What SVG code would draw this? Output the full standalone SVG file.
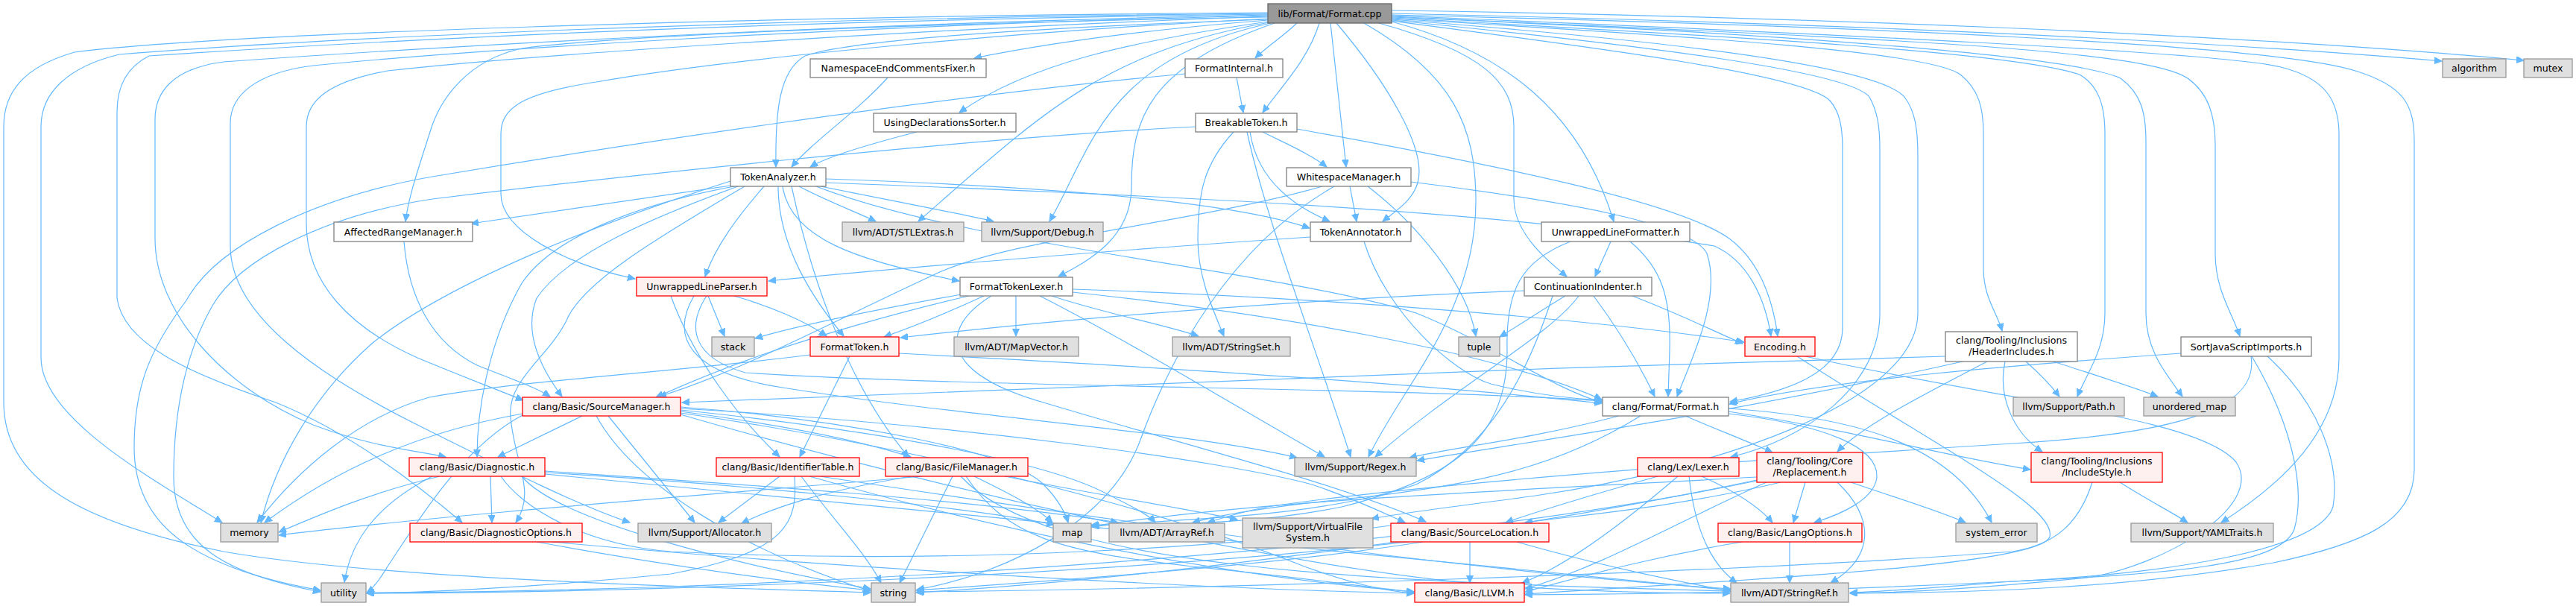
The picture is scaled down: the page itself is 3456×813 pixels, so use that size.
<svg xmlns="http://www.w3.org/2000/svg" width="3456" height="813" viewBox="0 0 3456 813">
<defs>
<marker id="a" markerWidth="11" markerHeight="10" refX="10" refY="4.5" orient="auto" markerUnits="userSpaceOnUse"><path d="M0,0 L10,4.5 L0,9 z" fill="#63b8ff" stroke="#63b8ff" stroke-width="1"/></marker>
<style>
.e path{fill:none;stroke:#63b8ff;stroke-width:1.2;marker-end:url(#a)}
rect{stroke-width:1.3}
.w{fill:#ffffff;stroke:#808080}
.g{fill:#e0e0e0;stroke:#999999}
.r{fill:#fff0f0;stroke:#ff0000}
.k{fill:#999999;stroke:#666666}
text{font-family:"DejaVu Sans","Noto Sans",sans-serif;font-size:12.6px;text-anchor:middle;fill:#000000}
</style>
</defs>
<rect x="0" y="0" width="3456" height="813" fill="#ffffff"/>
<g id="edges" class="e">
<path d="M1867,18 C2400,30 2900,50 3276,82"/>
<path d="M1867,14 C2400,22 3000,45 3386,81"/>
<path d="M1867,20 C2500,35 3050,60 3160,95 C3225,115 3239,140 3239,190 L3239,630 C3239,700 3170,730 3050,755 C2850,790 2650,795 2482,796"/>
<path d="M1867,21 C2450,45 2980,70 3060,90 C3120,105 3138,135 3138,180 L3138,480 C3138,580 3060,650 2980,701"/>
<path d="M1867,22 C2450,50 2870,62 2935,105 C2963,125 2972,155 2972,195 L2972,340 C2972,390 2995,420 3005,451"/>
<path d="M1867,23 C2400,45 2780,75 2845,105 C2872,125 2879,150 2879,190 L2879,420 C2879,470 2905,500 2928,532"/>
<path d="M1867,24 C2350,50 2700,70 2790,100 C2815,115 2824,140 2824,180 L2824,420 C2824,470 2800,500 2787,532"/>
<path d="M1867,25 C2300,50 2590,70 2630,100 C2655,120 2661,145 2661,180 L2661,360 C2661,400 2680,420 2686,444"/>
<path d="M1867,26 C2250,55 2520,90 2555,130 C2570,150 2573,175 2573,210 L2573,420 C2573,540 2300,630 2060,665 C1950,680 1880,688 1840,696"/>
<path d="M1867,27 C2200,60 2480,95 2508,130 C2519,150 2522,170 2522,200 L2522,420 C2522,520 2420,590 2322,613"/>
<path d="M1867,28 C2150,65 2420,100 2455,135 C2468,150 2472,170 2472,200 L2472,440 C2472,500 2400,525 2321,539"/>
<path d="M1867,29 C2020,70 2120,150 2165,297"/>
<path d="M1850,31 C1990,70 2031,110 2031,170 L2031,267 C2031,310 2070,345 2102,371"/>
<path d="M1830,31 C1950,100 1980,170 1980,270 C1980,420 1880,520 1836,613"/>
<path d="M1793,31 C1860,110 1915,200 1902,245 C1895,270 1870,285 1855,297"/>
<path d="M1785,31 L1806,224"/>
<path d="M1770,31 C1755,80 1720,115 1694,151"/>
<path d="M1740,31 C1720,50 1700,62 1684,78"/>
<path d="M1710,31 C1540,90 1518,160 1518,250 C1518,320 1460,350 1420,371"/>
<path d="M1705,31 C1480,80 1465,200 1408,297"/>
<path d="M1703,30 C1480,70 1400,150 1232,297"/>
<path d="M1701,29 C1520,55 1380,85 1287,151"/>
<path d="M1701,27 C1560,38 1420,55 1307,78"/>
<path d="M1701,26 C1450,35 1150,50 1080,75 C1045,95 1040,150 1041,224"/>
<path d="M1701,25 C1400,40 1000,75 800,110 C700,125 672,145 672,180 L672,260 C672,310 760,355 852,374"/>
<path d="M1701,23 C1300,30 850,45 700,65 C630,80 590,130 576,180 C560,230 548,265 544,297"/>
<path d="M1701,22 C1200,40 700,75 520,95 C440,110 411,135 411,170 L411,300 C411,380 470,440 560,480 C620,505 660,520 702,537"/>
<path d="M1701,21 C1100,35 600,70 420,88 C340,98 309,130 309,165 L309,330 C309,420 420,500 560,570 C680,630 780,680 845,701"/>
<path d="M1701,20 C1100,32 550,65 300,83 C230,92 208,125 208,160 L208,320 C208,420 300,520 420,570 C500,600 560,605 598,613"/>
<path d="M1701,19 C1000,28 500,55 200,75 C170,90 157,115 157,150 L157,400 C165,460 250,500 370,540 C470,580 560,650 620,701"/>
<path d="M1701,18 C1000,25 450,50 160,73 C90,90 55,125 55,170 L55,480 C55,560 200,640 298,701"/>
<path d="M1701,17 C1000,22 300,45 100,70 C30,90 5,125 5,170 L5,540 C5,640 100,700 300,740 C500,775 900,787 1168,795"/>
<path d="M1191,104 C1150,150 1090,190 1062,224"/>
<path d="M1230,177 C1160,195 1110,210 1087,224"/>
<path d="M1659,104 L1668,151"/>
<path d="M1590,99 C1250,130 800,200 580,237 C420,265 290,330 250,403 C200,470 180,520 180,600 C180,700 250,760 430,792"/>
<path d="M1604,170 C1300,185 800,240 580,267 C430,290 320,350 285,410 C245,480 233,560 233,640 C233,730 300,770 430,794"/>
<path d="M1740,173 C2000,220 2250,270 2320,320 C2360,350 2378,400 2385,451"/>
<path d="M1694,177 C1730,195 1760,208 1780,224"/>
<path d="M1677,177 C1685,230 1720,270 1784,297"/>
<path d="M1655,177 C1615,220 1607,260 1607,320 C1607,370 1625,410 1642,451"/>
<path d="M1673,177 C1700,300 1760,450 1812,613"/>
<path d="M980,249 L632,300"/>
<path d="M985,250 C850,275 740,320 700,380 C660,450 640,540 640,613"/>
<path d="M990,250 C880,290 760,340 720,400 C700,450 730,500 754,532"/>
<path d="M999,250 C880,320 780,380 760,430 C735,480 680,510 685,560 C690,620 720,660 692,701"/>
<path d="M980,243 C800,300 600,380 500,460 C420,530 370,620 350,701"/>
<path d="M1025,250 C990,290 960,330 946,371"/>
<path d="M1044,250 C1044,330 1090,400 1132,451"/>
<path d="M1050,250 C1060,320 1150,350 1287,377"/>
<path d="M1062,250 C1090,380 1140,520 1219,613"/>
<path d="M1072,250 C1110,270 1150,285 1175,297"/>
<path d="M1101,250 C1200,270 1280,285 1333,297"/>
<path d="M1108,240 C1400,250 1650,270 1757,306"/>
<path d="M1108,245 C1500,260 2000,280 2300,330 C2345,350 2368,400 2376,451"/>
<path d="M1095,250 C1300,330 1700,360 1900,420 C2000,460 2080,520 2149,540"/>
<path d="M1811,250 L1820,297"/>
<path d="M1774,250 C1600,300 1350,320 1250,370 C1120,430 990,500 884,532"/>
<path d="M1893,244 C2100,270 2270,300 2290,340 C2310,400 2270,480 2250,532"/>
<path d="M1835,250 C1900,300 1968,380 1980,451"/>
<path d="M1790,250 C1650,330 1570,480 1530,590 C1490,700 1350,770 1230,791"/>
<path d="M542,324 C548,400 580,460 640,490 C690,510 720,520 738,532"/>
<path d="M1758,318 C1500,335 1200,360 1031,377"/>
<path d="M1830,324 C1860,420 1950,500 2000,515 C2060,530 2110,535 2149,537"/>
<path d="M2161,324 L2140,371"/>
<path d="M2187,324 C2230,360 2242,400 2240,470 L2238,532"/>
<path d="M2107,324 C2040,350 2020,390 2022,470 C2022,580 1960,640 1800,680 C1650,710 1520,700 1463,705"/>
<path d="M2190,397 C2250,420 2290,440 2338,461"/>
<path d="M2045,390 C1800,400 1500,420 1208,453"/>
<path d="M2138,397 C2170,440 2200,490 2220,532"/>
<path d="M2118,397 C2080,450 1950,520 1845,613"/>
<path d="M2100,397 C2070,415 2040,435 2012,452"/>
<path d="M2083,397 C2050,500 2000,600 1900,650 C1750,700 1550,695 1465,707"/>
<path d="M1290,395 C1150,420 1060,440 1013,454"/>
<path d="M1320,397 C1270,420 1220,440 1186,452"/>
<path d="M1300,397 C1200,420 1100,450 1040,470 C980,490 920,515 880,533"/>
<path d="M1363,397 L1363,451"/>
<path d="M1411,397 C1480,420 1560,435 1608,451"/>
<path d="M1395,397 C1500,450 1650,540 1777,613"/>
<path d="M1330,397 C1260,440 1260,500 1400,540 C1600,600 1800,650 1913,700"/>
<path d="M1439,392 C1700,420 2000,470 2149,536"/>
<path d="M1439,388 C1800,400 2150,430 2340,459"/>
<path d="M1140,478 L1073,613"/>
<path d="M1206,474 C1600,495 1900,515 2149,541"/>
<path d="M1087,476 C900,500 700,510 576,533 C480,560 400,630 345,701"/>
<path d="M900,397 C930,480 990,560 1046,613"/>
<path d="M950,397 L972,451"/>
<path d="M985,397 C1030,410 1080,430 1109,451"/>
<path d="M948,397 C920,440 930,480 1000,500 C1300,520 1900,520 2149,538"/>
<path d="M931,397 C900,450 920,500 1050,520 C1300,560 1600,580 1740,614"/>
<path d="M2411,478 C2600,600 2760,680 2750,720 C2740,760 2300,780 2046,797"/>
<path d="M2422,478 C2700,540 2950,560 3000,620 C3040,680 2900,760 2800,775 C2650,790 2550,795 2482,796"/>
<path d="M2610,478 C2000,495 1200,525 915,540"/>
<path d="M2633,485 C2300,560 2000,600 1901,618"/>
<path d="M2666,485 C2580,530 2500,570 2465,606"/>
<path d="M2690,485 C2680,530 2700,580 2740,606"/>
<path d="M2718,485 C2735,500 2750,515 2763,532"/>
<path d="M2755,485 C2800,500 2850,515 2895,532"/>
<path d="M2926,474 C2700,490 2450,510 2320,542"/>
<path d="M3020,478 C3030,540 2950,580 2700,595 C2300,620 1900,650 1700,680 C1660,688 1640,695 1620,701"/>
<path d="M3021,478 C3070,560 3095,650 3078,710 C3060,760 2900,770 2700,780 C2400,795 2200,797 2046,798"/>
<path d="M3042,478 C3110,540 3140,620 3130,680 C3110,740 2900,770 2700,780 C2600,788 2530,794 2482,795"/>
<path d="M781,558 L668,613"/>
<path d="M816,558 L932,701"/>
<path d="M913,552 C1050,570 1150,590 1222,613"/>
<path d="M913,548 C1300,570 1650,620 1760,650 C1820,670 1860,690 1885,701"/>
<path d="M913,554 C1300,610 1600,700 1750,760 C1820,785 1860,793 1897,796"/>
<path d="M913,550 C1200,580 1400,620 1480,660 C1520,680 1540,690 1550,701"/>
<path d="M913,546 C1100,560 1350,600 1400,650 C1420,670 1430,690 1433,701"/>
<path d="M913,556 C1200,640 1700,760 2000,785 C2150,795 2250,796 2321,796"/>
<path d="M701,555 C560,580 450,630 355,701"/>
<path d="M701,557 C620,600 560,700 520,760 C508,780 500,790 492,795"/>
<path d="M800,558 C850,650 1000,740 1168,793"/>
<path d="M658,639 L660,701"/>
<path d="M672,639 C700,680 780,730 900,740 C1300,760 1700,730 1886,702"/>
<path d="M731,632 C1000,650 1300,670 1500,701"/>
<path d="M731,636 C1200,680 2000,760 2322,792"/>
<path d="M731,634 C1000,650 1300,680 1414,704"/>
<path d="M590,639 C500,660 430,690 374,714"/>
<path d="M700,639 C750,700 1000,760 1168,790"/>
<path d="M580,639 C500,680 470,730 462,781"/>
<path d="M740,727 C1100,760 1600,790 1897,796"/>
<path d="M720,727 C900,760 1050,780 1168,792"/>
<path d="M1046,639 L964,701"/>
<path d="M1066,639 C1070,700 1060,740 900,770 C700,790 550,795 492,796"/>
<path d="M1075,639 C1120,700 1160,740 1182,782"/>
<path d="M1086,639 C1300,700 1600,770 1897,794"/>
<path d="M1100,639 C1500,700 2000,770 2322,790"/>
<path d="M1278,639 L1207,782"/>
<path d="M1296,639 C1350,720 1420,740 1600,760 C1750,775 1850,790 1897,794"/>
<path d="M1289,639 C1400,760 1800,780 2322,793"/>
<path d="M1307,639 C1350,660 1390,680 1412,701"/>
<path d="M1348,639 C1450,660 1580,680 1660,697"/>
<path d="M1222,639 C1100,660 1040,680 995,702"/>
<path d="M1237,639 C1000,660 600,690 374,718"/>
<path d="M2224,639 C2150,660 2080,680 2020,701"/>
<path d="M2251,639 C2180,700 2100,760 2042,782"/>
<path d="M2266,639 C2275,720 2300,760 2330,782"/>
<path d="M2283,639 C2330,660 2360,680 2378,701"/>
<path d="M2422,647 L2406,701"/>
<path d="M2483,647 C2550,670 2600,685 2637,701"/>
<path d="M2465,647 C2520,700 2510,750 2456,782"/>
<path d="M2389,647 C2250,680 2130,690 2046,701"/>
<path d="M2370,647 C2250,700 2150,760 2046,790"/>
<path d="M2357,640 C2000,660 1700,670 1465,706"/>
<path d="M2357,644 C2000,720 1500,780 1229,795"/>
<path d="M2357,645 C1800,760 900,795 492,795"/>
<path d="M2807,647 C2790,700 2760,730 2700,740 C2300,770 1600,790 1230,794"/>
<path d="M2844,647 C2880,670 2910,685 2935,701"/>
<path d="M2172,558 C2050,590 1950,600 1891,614"/>
<path d="M2201,558 C2100,620 2000,650 1800,670 C1700,680 1640,690 1600,701"/>
<path d="M2261,558 C2300,575 2340,590 2378,607"/>
<path d="M2319,552 C2500,580 2600,610 2724,630"/>
<path d="M2319,548 C2500,560 2620,600 2672,701"/>
<path d="M2319,555 C2450,570 2520,600 2518,640 C2515,670 2470,690 2434,701"/>
<path d="M1972,727 L1972,782"/>
<path d="M1909,727 C1700,760 1400,780 1229,792"/>
<path d="M1890,727 C1500,770 900,795 492,796"/>
<path d="M2035,727 C2150,760 2250,780 2322,793"/>
<path d="M2401,727 L2401,782"/>
<path d="M2337,727 C2200,750 2100,780 2046,794"/>
</g>
<g id="n_root"><rect class="k" x="1701" y="5" width="166" height="26"/><text x="1784" y="22.5">lib/Format/Format.cpp</text></g>
<g id="n_necf"><rect class="w" x="1087" y="79" width="236" height="25"/><text x="1205" y="96">NamespaceEndCommentsFixer.h</text></g>
<g id="n_fi"><rect class="w" x="1590" y="79" width="131" height="25"/><text x="1655.5" y="96">FormatInternal.h</text></g>
<g id="n_alg"><rect class="g" x="3277" y="79" width="85" height="25"/><text x="3319.5" y="96">algorithm</text></g>
<g id="n_mut"><rect class="g" x="3386" y="79" width="65" height="25"/><text x="3418.5" y="96">mutex</text></g>
<g id="n_uds"><rect class="w" x="1172" y="152" width="191" height="25"/><text x="1267.5" y="169">UsingDeclarationsSorter.h</text></g>
<g id="n_bt"><rect class="w" x="1604" y="152" width="136" height="25"/><text x="1672" y="169">BreakableToken.h</text></g>
<g id="n_ta"><rect class="w" x="980" y="225" width="128" height="25"/><text x="1044" y="242">TokenAnalyzer.h</text></g>
<g id="n_wsm"><rect class="w" x="1726" y="225" width="167" height="25"/><text x="1809.5" y="242">WhitespaceManager.h</text></g>
<g id="n_arm"><rect class="w" x="448" y="298" width="186" height="26"/><text x="541" y="315.5">AffectedRangeManager.h</text></g>
<g id="n_stl"><rect class="g" x="1130" y="298" width="163" height="26"/><text x="1211.5" y="315.5">llvm/ADT/STLExtras.h</text></g>
<g id="n_dbg"><rect class="g" x="1317" y="298" width="163" height="26"/><text x="1398.5" y="315.5">llvm/Support/Debug.h</text></g>
<g id="n_tan"><rect class="w" x="1758" y="298" width="135" height="26"/><text x="1825.5" y="315.5">TokenAnnotator.h</text></g>
<g id="n_ulf"><rect class="w" x="2068" y="298" width="199" height="26"/><text x="2167.5" y="315.5">UnwrappedLineFormatter.h</text></g>
<g id="n_ulp"><rect class="r" x="854" y="372" width="175" height="25"/><text x="941.5" y="389">UnwrappedLineParser.h</text></g>
<g id="n_ftl"><rect class="w" x="1288" y="372" width="151" height="25"/><text x="1363.5" y="389">FormatTokenLexer.h</text></g>
<g id="n_ci"><rect class="w" x="2045" y="372" width="171" height="25"/><text x="2130.5" y="389">ContinuationIndenter.h</text></g>
<g id="n_stack"><rect class="g" x="955" y="452" width="57" height="26"/><text x="983.5" y="469.5">stack</text></g>
<g id="n_ft"><rect class="r" x="1087" y="452" width="119" height="26"/><text x="1146.5" y="469.5">FormatToken.h</text></g>
<g id="n_mv"><rect class="g" x="1280" y="452" width="167" height="26"/><text x="1363.5" y="469.5">llvm/ADT/MapVector.h</text></g>
<g id="n_ss"><rect class="g" x="1573" y="452" width="158" height="26"/><text x="1652" y="469.5">llvm/ADT/StringSet.h</text></g>
<g id="n_tuple"><rect class="g" x="1957" y="452" width="55" height="26"/><text x="1984.5" y="469.5">tuple</text></g>
<g id="n_enc"><rect class="r" x="2341" y="452" width="94" height="26"/><text x="2388" y="469.5">Encoding.h</text></g>
<g id="n_hi"><rect class="w" x="2610" y="445" width="177" height="40"/><text x="2698.5" y="461">clang/Tooling/Inclusions</text><text x="2698.5" y="476">/HeaderIncludes.h</text></g>
<g id="n_sji"><rect class="w" x="2926" y="452" width="175" height="26"/><text x="3013.5" y="469.5">SortJavaScriptImports.h</text></g>
<g id="n_sm"><rect class="r" x="701" y="533" width="212" height="25"/><text x="807" y="550">clang/Basic/SourceManager.h</text></g>
<g id="n_fh"><rect class="w" x="2150" y="533" width="169" height="25"/><text x="2234.5" y="550">clang/Format/Format.h</text></g>
<g id="n_path"><rect class="g" x="2701" y="533" width="149" height="25"/><text x="2775.5" y="550">llvm/Support/Path.h</text></g>
<g id="n_umap"><rect class="g" x="2876" y="533" width="123" height="25"/><text x="2937.5" y="550">unordered_map</text></g>
<g id="n_diag"><rect class="r" x="549" y="614" width="182" height="25"/><text x="640" y="631">clang/Basic/Diagnostic.h</text></g>
<g id="n_it"><rect class="r" x="961" y="614" width="192" height="25"/><text x="1057" y="631">clang/Basic/IdentifierTable.h</text></g>
<g id="n_fm"><rect class="r" x="1188" y="614" width="191" height="25"/><text x="1283.5" y="631">clang/Basic/FileManager.h</text></g>
<g id="n_regex"><rect class="g" x="1737" y="614" width="163" height="25"/><text x="1818.5" y="631">llvm/Support/Regex.h</text></g>
<g id="n_lex"><rect class="r" x="2197" y="614" width="136" height="25"/><text x="2265" y="631">clang/Lex/Lexer.h</text></g>
<g id="n_repl"><rect class="r" x="2357" y="607" width="142" height="40"/><text x="2428" y="623">clang/Tooling/Core</text><text x="2428" y="638">/Replacement.h</text></g>
<g id="n_is"><rect class="r" x="2725" y="607" width="176" height="40"/><text x="2813" y="623">clang/Tooling/Inclusions</text><text x="2813" y="638">/IncludeStyle.h</text></g>
<g id="n_mem"><rect class="g" x="296" y="702" width="77" height="25"/><text x="334.5" y="719">memory</text></g>
<g id="n_do"><rect class="r" x="550" y="702" width="231" height="25"/><text x="665.5" y="719">clang/Basic/DiagnosticOptions.h</text></g>
<g id="n_alloc"><rect class="g" x="856" y="702" width="179" height="25"/><text x="945.5" y="719">llvm/Support/Allocator.h</text></g>
<g id="n_map"><rect class="g" x="1413" y="702" width="51" height="25"/><text x="1438.5" y="719">map</text></g>
<g id="n_ar"><rect class="g" x="1488" y="702" width="155" height="25"/><text x="1565.5" y="719">llvm/ADT/ArrayRef.h</text></g>
<g id="n_vfs"><rect class="g" x="1667" y="695" width="175" height="40"/><text x="1754.5" y="711">llvm/Support/VirtualFile</text><text x="1754.5" y="726">System.h</text></g>
<g id="n_sl"><rect class="r" x="1866" y="702" width="212" height="25"/><text x="1972" y="719">clang/Basic/SourceLocation.h</text></g>
<g id="n_lo"><rect class="r" x="2305" y="702" width="193" height="25"/><text x="2401.5" y="719">clang/Basic/LangOptions.h</text></g>
<g id="n_se"><rect class="g" x="2624" y="702" width="109" height="25"/><text x="2678.5" y="719">system_error</text></g>
<g id="n_yaml"><rect class="g" x="2859" y="702" width="191" height="25"/><text x="2954.5" y="719">llvm/Support/YAMLTraits.h</text></g>
<g id="n_util"><rect class="g" x="431" y="782" width="60" height="26"/><text x="461" y="799.5">utility</text></g>
<g id="n_str"><rect class="g" x="1169" y="782" width="59" height="26"/><text x="1198.5" y="799.5">string</text></g>
<g id="n_llvm"><rect class="r" x="1898" y="782" width="147" height="26"/><text x="1971.5" y="799.5">clang/Basic/LLVM.h</text></g>
<g id="n_sr"><rect class="g" x="2322" y="782" width="158" height="26"/><text x="2401" y="799.5">llvm/ADT/StringRef.h</text></g>
</svg>
